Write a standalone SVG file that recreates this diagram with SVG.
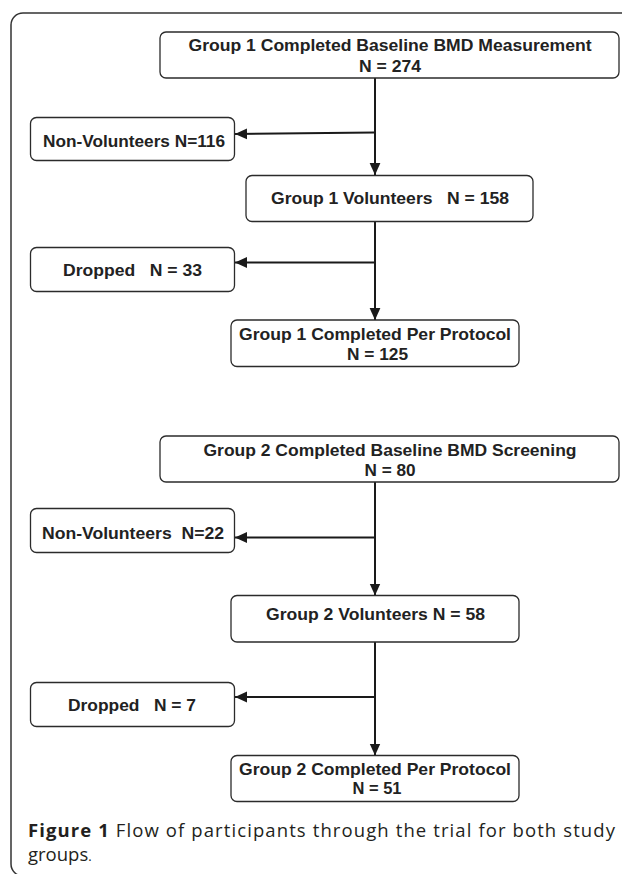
<svg xmlns="http://www.w3.org/2000/svg" width="622" height="874" viewBox="0 0 622 874">
<defs>
<style>
.box{fill:#fff;stroke:#2b2b2b;stroke-width:1.3}
.lbl{font-family:"Liberation Sans",Arial,sans-serif;font-weight:bold;font-size:17px;fill:#222;text-anchor:middle}
.lbl2{font-family:"Liberation Sans",Arial,sans-serif;font-weight:bold;font-size:17px;fill:#222}
.con{stroke:#1a1a1a;stroke-width:2;fill:none}
.cap{font-family:"Open Sans","Noto Sans",sans-serif;font-size:18.5px;fill:#231f20}
</style>
<marker id="ah" markerUnits="userSpaceOnUse" markerWidth="12" markerHeight="12" viewBox="0 0 10 10" refX="10" refY="5" orient="auto">
<path d="M0,0.5 L10,5 L0,9.5 z" fill="#1a1a1a"/>
</marker>
</defs>
<rect width="622" height="874" fill="#fff"/>
<path d="M630 13 H23 A12 12 0 0 0 11 25 V864 A12 12 0 0 0 23 876" fill="none" stroke="#333" stroke-width="1.5"/>

<g id="connectors">
<line class="con" x1="375" y1="78" x2="375" y2="175" marker-end="url(#ah)"/>
<line class="con" x1="375" y1="132.5" x2="235" y2="134" marker-end="url(#ah)"/>
<line class="con" x1="375" y1="221" x2="375" y2="320" marker-end="url(#ah)"/>
<line class="con" x1="375" y1="262.5" x2="235" y2="262.5" marker-end="url(#ah)"/>
<line class="con" x1="375" y1="482" x2="375" y2="595.5" marker-end="url(#ah)"/>
<line class="con" x1="375" y1="537.5" x2="235" y2="537.5" marker-end="url(#ah)"/>
<line class="con" x1="375" y1="642" x2="375" y2="755.5" marker-end="url(#ah)"/>
<line class="con" x1="375" y1="697" x2="235" y2="697" marker-end="url(#ah)"/>
</g>

<g id="g1-baseline">
<rect class="box" x="160" y="32" width="459" height="46" rx="6"/>
<text class="lbl" x="390" y="51" textLength="403" lengthAdjust="spacingAndGlyphs">Group 1 Completed Baseline BMD Measurement</text>
<text class="lbl" x="390" y="72" textLength="62" lengthAdjust="spacingAndGlyphs">N = 274</text>
</g>
<g id="g1-nonvol">
<rect class="box" x="30.5" y="117.5" width="204" height="43" rx="6"/>
<text class="lbl2" x="43" y="147" textLength="182" lengthAdjust="spacingAndGlyphs">Non-Volunteers N=116</text>
</g>
<g id="g1-vol">
<rect class="box" x="246" y="175.5" width="287" height="46" rx="6"/>
<text class="lbl2" x="271" y="204" textLength="238" lengthAdjust="spacingAndGlyphs" xml:space="preserve">Group 1 Volunteers   N = 158</text>
</g>
<g id="g1-dropped">
<rect class="box" x="30.5" y="247.5" width="204" height="44" rx="6"/>
<text class="lbl2" x="63" y="276" textLength="139" lengthAdjust="spacingAndGlyphs" xml:space="preserve">Dropped   N = 33</text>
</g>
<g id="g1-completed">
<rect class="box" x="231" y="320" width="288" height="46.5" rx="6"/>
<text class="lbl" x="375" y="339.5" textLength="272" lengthAdjust="spacingAndGlyphs">Group 1 Completed Per Protocol</text>
<text class="lbl" x="377.5" y="360" textLength="61" lengthAdjust="spacingAndGlyphs">N = 125</text>
</g>

<g id="g2-baseline">
<rect class="box" x="160" y="436" width="459" height="46" rx="6"/>
<text class="lbl" x="390" y="456" textLength="373" lengthAdjust="spacingAndGlyphs">Group 2 Completed Baseline BMD Screening</text>
<text class="lbl" x="390" y="476" textLength="51" lengthAdjust="spacingAndGlyphs">N = 80</text>
</g>
<g id="g2-nonvol">
<rect class="box" x="30.5" y="508.5" width="204" height="44" rx="6"/>
<text class="lbl2" x="42" y="539" textLength="182" lengthAdjust="spacingAndGlyphs" xml:space="preserve">Non-Volunteers  N=22</text>
</g>
<g id="g2-vol">
<rect class="box" x="231" y="595.5" width="288" height="46.5" rx="6"/>
<text class="lbl" x="375.5" y="620" textLength="219" lengthAdjust="spacingAndGlyphs">Group 2 Volunteers N = 58</text>
</g>
<g id="g2-dropped">
<rect class="box" x="30.5" y="682.5" width="204" height="44" rx="6"/>
<text class="lbl2" x="68" y="711" textLength="128" lengthAdjust="spacingAndGlyphs" xml:space="preserve">Dropped   N = 7</text>
</g>
<g id="g2-completed">
<rect class="box" x="231" y="755.5" width="288" height="46" rx="6"/>
<text class="lbl" x="375" y="775" textLength="272" lengthAdjust="spacingAndGlyphs">Group 2 Completed Per Protocol</text>
<text class="lbl" x="377" y="794" textLength="49" lengthAdjust="spacingAndGlyphs">N = 51</text>
</g>

<g id="caption">
<text class="cap" x="28" y="837" textLength="587" lengthAdjust="spacing"><tspan font-weight="bold">Figure 1</tspan> Flow of participants through the trial for both study</text>
<text class="cap" x="28" y="861">groups<tspan font-size="13">.</tspan></text>
</g>
</svg>
